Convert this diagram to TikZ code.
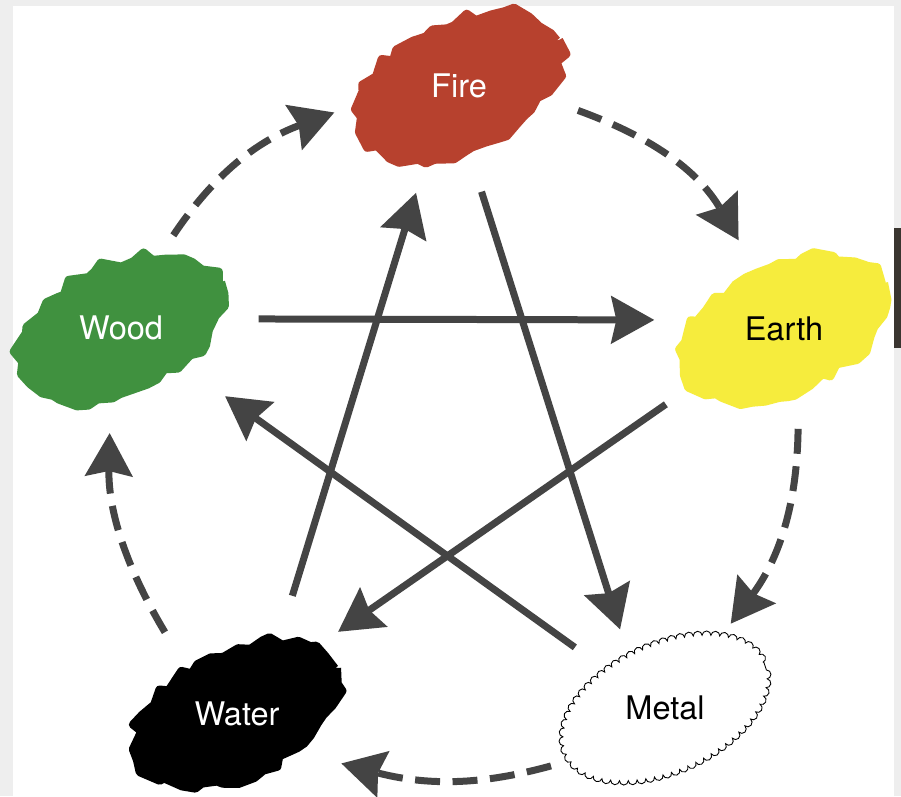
\documentclass[tikz,border=0pt]{standalone}
\usepackage{fontspec}
\setmainfont{TeX Gyre Heros}
\usetikzlibrary{arrows.meta, shapes.geometric, decorations.pathmorphing, backgrounds}

\definecolor{firered}{HTML}{B7412E}
\definecolor{woodgreen}{HTML}{40913F}
\definecolor{earthyellow}{HTML}{F6EC3D}
\definecolor{arrowgray}{HTML}{444444}
\definecolor{framegray}{HTML}{EEEEEE}
\definecolor{edgebrown}{HTML}{3A3530}

% scribbled patch behind an element
\newcommand\blob[2]{\filldraw[fill=#2, draw=#2, blobedge, rotate around={25:(#1)}] (#1) ellipse [x radius=108, y radius=62];}

\tikzset{
  element/.style={ellipse, minimum width=5.2cm, minimum height=3.6cm, font=\fontsize{18.5}{22}\selectfont},
  blobedge/.style={line width=0.16cm, line join=round, decorate, decoration={random steps, segment length=7pt, amplitude=3pt}},
  overcomes/.style={draw=arrowgray, line width=0.14cm, -{Stealth[length=0.86cm, width=0.94cm, inset=0.1cm]}},
  generates/.style={overcomes, dash pattern=on 0.5cm off 0.25cm}
}

\begin{document}
\begin{tikzpicture}[x=0.02cm, y=0.02cm]
\useasboundingbox (0,0) rectangle (901,796);
\pgfmathsetseed{12}

% elements
\node[element, text=white] (fire) at (459,710) {Fire};
\node[element] (earth) at (784,467) {Earth};
\node[element] (metal) at (665,88) {Metal};
\node[element, text=white] (water) at (237,82) {Water};
\node[element, text=white] (wood) at (121,468) {Wood};

% paper and scribbles
\begin{scope}[on background layer]
  \fill[framegray] (0,0) rectangle (901,796);
  \fill[white] (13,0) rectangle (894,790);
  \fill[edgebrown] (894,448) rectangle (901,568);
  \blob{fire}{firered}
  \blob{earth}{earthyellow}
  \blob{water}{black}
  \blob{wood}{woodgreen}
  \filldraw[fill=white, draw=black, line width=0.5pt, decorate, decoration={bumps, mirror, segment length=10pt, amplitude=2.6pt}, rotate around={25:(metal)}] (metal) ellipse [x radius=108, y radius=62];
\end{scope}

% generating cycle
\draw[generates, shorten <=0.2cm] (wood.61) to[bend left=18] (fire.192);
\draw[generates, shorten <=-0.12cm, shorten >=0.08cm] (fire.-12) to[bend left=20] (earth.117);
\draw[generates, shorten <=0.2cm, shorten >=0.12cm] (earth.-81) to[bend left=18] (metal.52);
\draw[generates, shorten <=0.22cm, shorten >=-0.08cm] (metal.208) to[bend left=15] (water.-25);
\draw[generates, shorten <=0.12cm, shorten >=0.3cm] (water.132) to[bend left=16] (wood.-97);

% overcoming star
\draw[overcomes, shorten <=0.16cm] (wood.4) -- (earth.176);
\draw[overcomes, shorten <=0.34cm, shorten >=-0.12cm] (fire.-79) -- (metal.119);
\draw[overcomes, shorten <=0.52cm, shorten >=0.44cm] (earth.212) -- (water.40);
\draw[overcomes, shorten <=0.7cm, shorten >=0.42cm] (water.62) -- (fire.247);
\draw[overcomes, shorten <=-0.08cm, shorten >=0.22cm] (metal.146) -- (wood.-33);
\end{tikzpicture}
\end{document}
